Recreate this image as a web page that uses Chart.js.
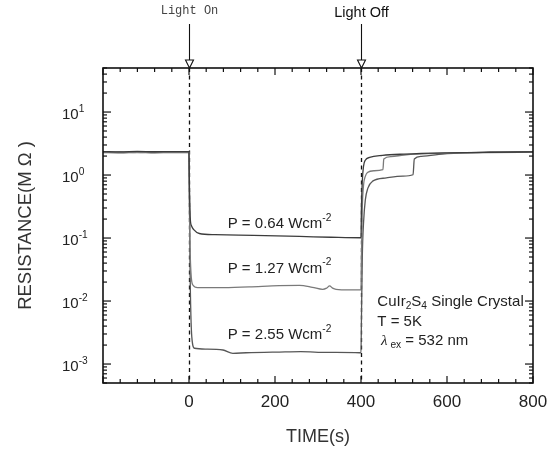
<!DOCTYPE html>
<html>
<head>
<meta charset="utf-8">
<script src="https://cdn.jsdelivr.net/npm/chart.js@4.4.0/dist/chart.umd.min.js"></script>
<style>
  body { margin: 0; background: #fff; }
</style>
</head>
<body>
<canvas id="chart" width="549" height="453"></canvas>
<script>
// resistance (M ohm) against time (s)
// P = 0.64 Wcm-2
const lowTime = [-200, -160, -120, -80, -40, 0, 0.6, 1.5, 3, 6, 11, 24, 60, 150, 257, 330, 399, 400, 401, 403, 406, 410, 420, 450, 500, 600, 700, 800]
const lowRes = [2.36, 2.33, 2.37, 2.34, 2.36, 2.35, 1.0, 0.42, 0.2, 0.155, 0.136, 0.118, 0.113, 0.11, 0.106, 0.103, 0.101, 0.101, 0.3, 0.8, 1.4, 1.72, 1.9, 2.05, 2.15, 2.25, 2.3, 2.33]
// P = 1.27 Wcm-2
const midTime = [-200, -160, -120, -80, -40, 0, 0.8, 2, 4.6, 9, 20, 71, 140, 210, 257, 287, 311, 320, 327, 334, 342, 373, 399, 400, 401, 403, 406, 410, 415, 430, 451, 453, 470, 500, 600, 700, 800]
const midRes = [2.3, 2.32, 2.28, 2.31, 2.29, 2.3, 0.6, 0.1, 0.028, 0.018, 0.0163, 0.0163, 0.0168, 0.0175, 0.0177, 0.0165, 0.0153, 0.016, 0.0174, 0.016, 0.0153, 0.015, 0.015, 0.015, 0.05, 0.3, 0.7, 0.95, 1.1, 1.17, 1.22, 1.8, 1.96, 2.08, 2.22, 2.28, 2.3]
// P = 2.55 Wcm-2
const highTime = [-200, -160, -120, -80, -40, 0, 1, 2.5, 6.5, 12.8, 40, 79, 102, 133, 210, 260, 320, 397, 400, 401, 403, 406, 410, 416, 427, 459, 497, 521, 524, 540, 600, 700, 800]
const highRes = [2.27, 2.25, 2.29, 2.26, 2.28, 2.27, 0.4, 0.03, 0.0027, 0.00178, 0.00173, 0.00167, 0.00148, 0.00151, 0.00155, 0.00157, 0.00153, 0.00151, 0.0015, 0.005, 0.05, 0.18, 0.4, 0.62, 0.8, 0.9, 0.96, 1.01, 1.8, 1.98, 2.18, 2.3, 2.35]

const powers = ['0.64', '1.27', '2.55']
const labelAt = [[90, 0.165], [90, 0.033], [90, 0.0029]]   // where the P = ... labels sit (time, resistance)
const switchTimes = [0, 400]
const switchNames = ['Light On', 'Light Off']
const yDecades = [-3, -2, -1, 0, 1]

const sans = '"Liberation Sans", Arial, sans-serif'

function pts(t, r) {
  return t.map((v, i) => ({x: v, y: r[i]}))
}

// text with raised / lowered pieces
function rich(ctx, parts, x, y, size) {
  parts.forEach(p => {
    const s = p.sup || p.sub ? size * 0.68 : size
    ctx.font = (p.font || '') + s + 'px ' + (p.family || sans)
    const dy = p.sup ? -size * 0.38 : p.sub ? size * 0.3 : 0
    ctx.fillText(p.t, x, y + dy)
    x += ctx.measureText(p.t).width
  })
}

const decor = {
  id: 'decor',
  beforeDatasetsDraw(chart) {
    const {ctx, chartArea: a, scales: {x}} = chart
    ctx.save()
    ctx.strokeStyle = '#111'
    ctx.lineWidth = 1.3
    ctx.setLineDash([4, 3.5])
    switchTimes.forEach(t => {
      const px = Math.round(x.getPixelForValue(t)) + 0.5
      ctx.beginPath()
      ctx.moveTo(px, a.top)
      ctx.lineTo(px, a.bottom)
      ctx.stroke()
    })
    ctx.restore()
  },
  afterDraw(chart) {
    const {ctx, chartArea: a, scales: {x, y}} = chart
    ctx.save()
    ctx.strokeStyle = '#111'
    ctx.fillStyle = '#222'
    ctx.lineWidth = 1.2
    const seg = (x1, y1, x2, y2) => {
      ctx.beginPath(); ctx.moveTo(x1, y1); ctx.lineTo(x2, y2); ctx.stroke()
    }
    // inward ticks on all four sides
    for (let v = x.min; v <= x.max; v += 40) {
      const px = x.getPixelForValue(v)
      const len = v % 200 === 0 ? 7 : 4
      seg(px, a.bottom, px, a.bottom - len)
      seg(px, a.top, px, a.top + len)
    }
    for (let d = -4; d <= 1; d++) {
      for (let m = 1; m <= 9; m++) {
        const v = m * Math.pow(10, d)
        if (v < y.min || v > y.max) continue
        const py = y.getPixelForValue(v)
        const len = m === 1 ? 8 : 4
        seg(a.left, py, a.left + len, py)
        seg(a.right, py, a.right - len, py)
      }
    }
    ctx.lineWidth = 1.6
    ctx.strokeRect(a.left, a.top, a.right - a.left, a.bottom - a.top)

    // y tick labels 10^n
    ctx.textBaseline = 'middle'
    ctx.textAlign = 'left'
    yDecades.forEach(d => {
      const py = y.getPixelForValue(Math.pow(10, d))
      rich(ctx, [{t: '10'}, {t: String(d), sup: true}], a.left - 41, py + 3, 15)
    })

    // light on / off arrows
    ctx.lineWidth = 1.1
    switchTimes.forEach((t, i) => {
      const px = Math.round(x.getPixelForValue(t)) + 0.5
      seg(px, a.top - 44, px, a.top - 8)
      ctx.beginPath()
      ctx.moveTo(px - 4, a.top - 8)
      ctx.lineTo(px + 4, a.top - 8)
      ctx.lineTo(px, a.top)
      ctx.closePath()
      ctx.fillStyle = '#fff'
      ctx.fill()
      ctx.stroke()
      ctx.textAlign = 'center'
      if (i === 0) {
        ctx.fillStyle = '#444'
        ctx.font = '12px "Liberation Mono", "DejaVu Sans Mono", monospace'
        ctx.fillText(switchNames[i], px, a.top - 57)
      } else {
        ctx.fillStyle = '#111'
        ctx.font = '14.5px ' + sans
        ctx.fillText(switchNames[i], px, a.top - 55)
      }
    })

    // power labels
    ctx.fillStyle = '#222'
    ctx.textAlign = 'left'
    powers.forEach((p, i) => {
      const px = x.getPixelForValue(labelAt[i][0])
      const py = y.getPixelForValue(labelAt[i][1])
      rich(ctx, [{t: 'P = ' + p + ' Wcm'}, {t: '-2', sup: true}], px, py, 15)
    })

    // sample info
    const sx = x.getPixelForValue(438)
    rich(ctx, [{t: 'CuIr'}, {t: '2', sub: true}, {t: 'S'}, {t: '4', sub: true}, {t: ' Single Crystal'}], sx, 302, 15)
    rich(ctx, [{t: 'T = 5K'}], sx, 322, 15)
    rich(ctx, [{t: ' \u03bb', family: '"Liberation Serif", "DejaVu Serif", serif', font: 'italic '}, {t: ' ex', sub: true}, {t: ' = 532 nm'}], sx, 341, 15)
    ctx.restore()
  }
}

const line = (data, color) => ({
  data: data,
  borderColor: color,
  borderWidth: 1.3,
  pointRadius: 0,
  fill: false,
  cubicInterpolationMode: 'monotone'
})

new Chart(document.getElementById('chart'), {
  type: 'line',
  data: {
    datasets: [
      line(pts(lowTime, lowRes), '#3c3c3c'),
      line(pts(midTime, midRes), '#7a7a7a'),
      line(pts(highTime, highRes), '#575757')
    ]
  },
  options: {
    responsive: false,
    animation: false,
    layout: {padding: {top: 68, right: 16, left: 0, bottom: 0}},
    plugins: {legend: {display: false}, tooltip: {enabled: false}},
    scales: {
      x: {
        type: 'linear',
        min: -200,
        max: 800,
        grid: {display: false, drawTicks: false},
        border: {display: false},
        ticks: {
          stepSize: 200,
          padding: 9,
          color: '#222',
          font: {size: 17, family: sans},
          maxRotation: 0,
          callback: v => v < 0 ? '' : v
        },
        title: {display: true, text: 'TIME(s)', color: '#333', font: {size: 18, family: sans}, padding: {top: 0, bottom: 5}},
        afterFit: s => { s.height = 70; s.paddingLeft = 0; s.paddingRight = 0 }
      },
      y: {
        type: 'logarithmic',
        min: 5e-4,
        max: 50,
        grid: {display: false, drawTicks: false},
        border: {display: false},
        ticks: {display: false},
        title: {display: true, text: 'RESISTANCE(M \u03a9 )', color: '#333', font: {size: 18.5, family: sans}, padding: {top: 15, bottom: 0}},
        afterFit: s => { s.width = 103 }
      }
    }
  },
  plugins: [decor]
})
</script>
</body>
</html>
